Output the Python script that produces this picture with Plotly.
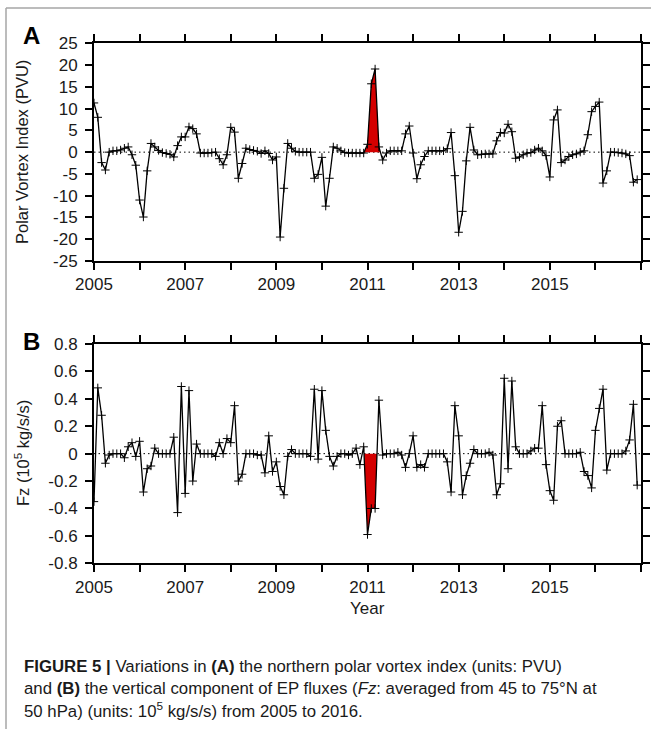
import plotly.graph_objects as go

# ---- data -------------------------------------------------------------
years = list(range(2005, 2017))

# Northern polar vortex index (PVU), monthly Jan 2005 - Dec 2016
pvi = [
    11.3, 8.0, -2.4, -4.1, 0.0, 0.3, 0.3, 0.5, 0.9, 1.2, -0.6, -3.0,      # 2005
    -11.0, -14.9, -4.3, 2.0, 1.2, 0.4, -0.1, -0.3, -0.5, -1.1, 1.5, 3.5,  # 2006
    3.5, 5.8, 5.4, 4.2, -0.2, -0.2, -0.2, -0.1, 0.0, -1.5, -2.9, -0.6,    # 2007
    5.7, 4.6, -6.0, -2.6, 0.9, 0.6, 0.4, 0.2, -0.3, 0.3, -0.3, -1.8,      # 2008
    -1.1, -19.5, -8.3, 2.0, 0.9, 0.2, 0.0, 0.0, 0.0, 0.0, -6.0, -5.1,     # 2009
    -1.2, -12.4, -6.0, 1.2, 0.9, 0.3, -0.1, -0.2, -0.2, -0.2, -0.2, -0.2, # 2010
    1.8, 15.7, 19.1, 1.2, -1.8, -0.2, 0.3, 0.3, 0.3, 0.3, 4.2, 6.0,       # 2011
    -0.2, -6.1, -2.9, -1.0, 0.3, 0.3, 0.3, 0.3, 0.3, 0.8, 4.5, -5.4,      # 2012
    -18.4, -13.6, -2.0, 5.7, 0.5, -0.6, -0.5, -0.4, -0.4, -0.4, 2.6, 4.5, # 2013
    4.4, 6.4, 4.7, -1.4, -1.1, -0.6, -0.2, -0.1, 0.5, 0.9, 0.3, -0.8,     # 2014
    -5.7, 7.4, 9.7, -2.4, -1.8, -1.0, -0.6, -0.4, 0.0, 0.3, 4.0, 9.3,     # 2015
    10.5, 11.5, -7.1, -4.3, 0.0, 0.0, -0.1, -0.2, -0.4, -0.8, -6.9, -6.3, # 2016
]

# Vertical EP flux component Fz (1e5 kg/s/s), monthly Jan 2005 - Dec 2016
fz = [
    -0.35, 0.48, 0.28, -0.07, -0.01, 0.0, 0.0, 0.0, -0.03, 0.05, 0.08, -0.02,  # 2005
    0.09, -0.28, -0.11, -0.09, 0.04, 0.0, 0.0, 0.0, 0.0, 0.12, -0.43, 0.49,    # 2006
    -0.29, 0.46, -0.20, 0.07, 0.0, 0.0, 0.0, 0.0, -0.02, 0.08, 0.0, 0.11,      # 2007
    0.08, 0.35, -0.20, -0.15, 0.0, 0.0, 0.0, -0.01, -0.01, -0.14, 0.13, -0.13, # 2008
    -0.06, -0.24, -0.30, -0.02, 0.03, 0.0, 0.0, 0.0, 0.0, -0.02, 0.47, -0.04,  # 2009
    0.46, 0.17, -0.02, -0.09, -0.02, 0.0, 0.0, -0.01, 0.0, 0.04, -0.08, 0.05,  # 2010
    -0.59, -0.40, -0.40, 0.39, -0.01, 0.0, 0.0, 0.0, 0.01, -0.01, -0.10, 0.0,  # 2011
    0.13, -0.10, -0.08, -0.10, 0.0, 0.0, 0.0, 0.0, 0.0, -0.06, -0.28, 0.35,    # 2012
    0.13, -0.30, -0.16, -0.07, 0.03, 0.0, 0.0, 0.0, 0.01, -0.01, -0.30, -0.22, # 2013
    0.55, -0.11, 0.53, 0.05, 0.0, 0.0, 0.0, 0.02, 0.04, 0.04, 0.35, -0.08,     # 2014
    -0.27, -0.34, 0.20, 0.24, 0.0, 0.0, 0.0, 0.0, 0.01, -0.13, -0.16, -0.25,   # 2015
    0.17, 0.33, 0.47, -0.12, 0.0, 0.0, 0.0, 0.0, 0.02, 0.10, 0.36, -0.23,      # 2016
]

x_ticks = years + [2017]
x_labels = [str(y) if y % 2 == 1 and y < 2017 else "" for y in x_ticks]

pvi_ticks = [25, 20, 15, 10, 5, 0, -5, -10, -15, -20, -25]
pvi_labels = ["25", "20", "15", "10", "5", "0", "-5", "-10", "-15", "-20", "-25"]
fz_ticks = [0.8, 0.6, 0.4, 0.2, 0, -0.2, -0.4, -0.6, -0.8]
fz_labels = ["0.8", "0.6", "0.4", "0.2", "0", "-0.2", "-0.4", "-0.6", "-0.8"]

# Winter 2010/11 event window (Dec 2010 .. May 2011), index into monthly series
event_start, event_end = 71, 76

# decimal-year position of each month
xs = [y + m / 12 for y in years for m in range(12)]


def event_polygon(xv, yv, i0, i1, sign):
    """Area between the curve and zero where sign*y > 0, clipped at zero crossings."""
    px, py = [], []
    for i in range(i0, i1 + 1):
        if sign * yv[i] > 0:
            px.append(xv[i])
            py.append(yv[i])
        if i < i1 and yv[i] * yv[i + 1] < 0:
            t = yv[i] / (yv[i] - yv[i + 1])
            px.append(xv[i] + t * (xv[i + 1] - xv[i]))
            py.append(0.0)
    return px, py


W, H = 651, 729
FONT = "Liberation Sans, Arial, sans-serif"
INK = "#1a1a1a"

fig = go.Figure()

for ys, xa, ya, sign, wend in [(pvi, "x", "y", 1, event_end), (fz, "x2", "y2", -1, event_end - 1)]:
    fx, fy = event_polygon(xs, ys, event_start, wend, sign)
    fig.add_trace(go.Scatter(
        x=fx, y=fy, xaxis=xa, yaxis=ya, mode="lines", fill="toself",
        fillcolor="#d40000", line=dict(width=0), hoverinfo="skip", showlegend=False,
    ))
    fig.add_trace(go.Scatter(
        x=xs, y=ys, xaxis=xa, yaxis=ya, mode="lines+markers",
        line=dict(color="black", width=1.3),
        marker=dict(symbol="cross-thin", size=6, line=dict(color="black", width=1)),
        showlegend=False,
    ))

axis_common = dict(
    showline=True, linewidth=2, linecolor="black", mirror="allticks",
    ticks="outside", ticklen=7, tickwidth=1.8, tickcolor="black",
    showgrid=False, zeroline=False, automargin=False,
    tickfont=dict(family=FONT, size=17, color=INK),
)

x0p, x1p = 94 / W, 641 / W
fig.update_layout(
    template="none",
    width=W, height=H,
    margin=dict(l=0, r=0, t=0, b=0, pad=0),
    paper_bgcolor="white", plot_bgcolor="white",
    xaxis=dict(domain=[x0p, x1p], anchor="y", range=[2005, 2017],
               tickvals=x_ticks, ticktext=x_labels, **axis_common),
    yaxis=dict(domain=[1 - 261 / H, 1 - 43.3 / H], anchor="x", range=[-25, 25],
               tickvals=pvi_ticks, ticktext=pvi_labels, ticklabelstandoff=4, **axis_common),
    xaxis2=dict(domain=[x0p, x1p], anchor="y2", range=[2005, 2017],
                tickvals=x_ticks, ticktext=x_labels, **axis_common),
    yaxis2=dict(domain=[1 - 563.3 / H, 1 - 344 / H], anchor="x2", range=[-0.8, 0.8],
                tickvals=fz_ticks, ticktext=fz_labels, ticklabelstandoff=4, **axis_common),
)

# dotted zero reference lines
for xa, ya in [("x", "y"), ("x2", "y2")]:
    fig.add_shape(type="line", xref=xa, yref=ya, x0=2005, x1=2017, y0=0, y1=0,
                  line=dict(color="black", width=1, dash="1.5px,3px"), layer="below")

# outer page frame (top and left edges)
fig.add_shape(type="line", xref="paper", yref="paper", x0=6 / W, x1=1, y0=1 - 8 / H, y1=1 - 8 / H,
              line=dict(color="#a6a6a6", width=1.5))
fig.add_shape(type="line", xref="paper", yref="paper", x0=6 / W, x1=6 / W, y0=0, y1=1 - 8 / H,
              line=dict(color="#a6a6a6", width=1.5))


def text(x, y, s, size, xanchor="center", **kw):
    fig.add_annotation(x=x / W, y=1 - y / H, xref="paper", yref="paper", text=s,
                       showarrow=False, xanchor=xanchor, yanchor="middle",
                       font=dict(family=kw.pop("family", FONT), size=size,
                                 color=kw.pop("color", INK)), **kw)


text(31, 35, "<b>A</b>", 24, color="black")
text(31, 341, "<b>B</b>", 24, color="black")
text(22, 152, "Polar Vortex Index (PVU)", 16.5, textangle=-90)
text(22, 453, "Fz (10<sup>5</sup> kg/s/s)", 16.5, textangle=-90)
text(367, 608, "Year", 17)

CAP_SIZE = 16.8
text(22, 666, "<b>FIGURE 5 |</b> Variations in <b>(A)</b> the northern polar vortex index (units: PVU)",
     CAP_SIZE, xanchor="left")
text(22, 688, "and <b>(B)</b> the vertical component of EP fluxes (<i>Fz</i>: averaged from 45 to 75°N at",
     CAP_SIZE, xanchor="left")
text(22, 710, "50 hPa) (units: 10<sup>5</sup> kg/s/s) from 2005 to 2016.",
     CAP_SIZE, xanchor="left")

fig.write_html("out.html")
